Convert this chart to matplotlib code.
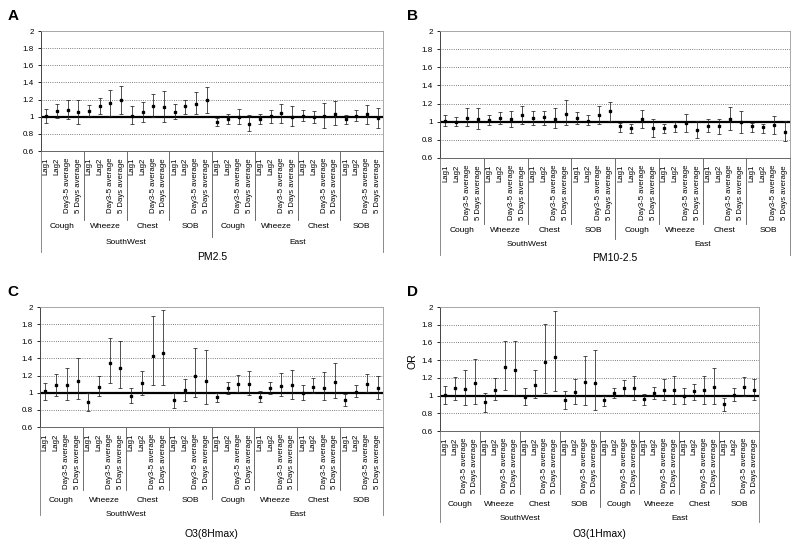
import matplotlib
matplotlib.use('Agg')
import matplotlib.pyplot as plt
from matplotlib.transforms import blended_transform_factory
import numpy as np

plt.rcParams['font.family'] = ['Liberation Sans', 'DejaVu Sans']

lags = ['Lag1', 'Lag2', 'Day3-5 average', '5 Days average']
symptoms = ['Cough', 'Wheeze', 'Chest', 'SOB']
regions = ['SouthWest', 'East']

# odds ratios with lower / upper 95% limits, 32 per panel
pm25_or = [1.01, 1.07, 1.08, 1.05, 1.07, 1.12, 1.16, 1.19, 1.01, 1.05, 1.13, 1.11, 1.06, 1.12, 1.15, 1.19,
           0.94, 0.97, 1.00, 0.92, 0.97, 1.01, 1.04, 1.00, 1.01, 1.00, 1.01, 1.03, 0.97, 1.01, 1.03, 0.98]
pm25_lo = [0.93, 0.98, 0.97, 0.92, 1.01, 1.03, 1.01, 1.03, 0.91, 0.94, 1.00, 0.94, 0.97, 1.03, 1.03, 1.04,
           0.89, 0.91, 0.91, 0.83, 0.91, 0.93, 0.93, 0.89, 0.95, 0.93, 0.87, 0.90, 0.91, 0.95, 0.92, 0.87]
pm25_hi = [1.09, 1.15, 1.20, 1.19, 1.14, 1.22, 1.31, 1.36, 1.12, 1.17, 1.27, 1.30, 1.15, 1.20, 1.29, 1.35,
           0.99, 1.03, 1.09, 1.02, 1.03, 1.08, 1.15, 1.13, 1.08, 1.07, 1.16, 1.18, 1.02, 1.08, 1.14, 1.10]

pm10_or = [1.01, 1.00, 1.04, 1.03, 1.02, 1.04, 1.03, 1.07, 1.04, 1.05, 1.03, 1.09, 1.04, 1.01, 1.07, 1.12,
           0.95, 0.93, 1.03, 0.93, 0.93, 0.95, 0.99, 0.91, 0.95, 0.95, 1.03, 1.00, 0.95, 0.94, 0.96, 0.89]
pm10_lo = [0.95, 0.95, 0.95, 0.92, 0.96, 0.98, 0.94, 0.97, 0.96, 0.96, 0.93, 0.96, 0.97, 0.96, 0.97, 1.01,
           0.89, 0.88, 0.93, 0.83, 0.88, 0.89, 0.89, 0.82, 0.89, 0.87, 0.91, 0.88, 0.89, 0.88, 0.86, 0.79]
pm10_hi = [1.07, 1.05, 1.15, 1.15, 1.07, 1.11, 1.12, 1.17, 1.12, 1.12, 1.15, 1.24, 1.11, 1.07, 1.17, 1.22,
           0.99, 0.98, 1.13, 1.03, 0.98, 1.00, 1.09, 1.01, 1.03, 1.03, 1.16, 1.12, 0.99, 0.98, 1.06, 1.01]

o38_or = [1.02, 1.09, 1.09, 1.14, 0.89, 1.07, 1.35, 1.29, 0.96, 1.11, 1.43, 1.46, 0.91, 1.03, 1.20, 1.14,
          0.95, 1.05, 1.10, 1.10, 0.95, 1.05, 1.08, 1.09, 1.00, 1.07, 1.06, 1.12, 0.91, 1.01, 1.10, 1.05]
o38_lo = [0.92, 0.96, 0.91, 0.93, 0.79, 0.96, 1.11, 1.05, 0.88, 0.97, 1.09, 1.09, 0.82, 0.90, 0.95, 0.87,
          0.89, 0.99, 1.01, 0.97, 0.89, 0.98, 0.96, 0.93, 0.91, 1.00, 0.91, 0.94, 0.85, 0.95, 1.01, 0.93]
o38_hi = [1.11, 1.22, 1.29, 1.41, 1.00, 1.20, 1.64, 1.60, 1.05, 1.25, 1.89, 1.96, 1.00, 1.16, 1.52, 1.50,
          1.00, 1.13, 1.21, 1.25, 1.02, 1.12, 1.23, 1.27, 1.09, 1.17, 1.24, 1.35, 0.98, 1.09, 1.22, 1.20]

o31_or = [1.01, 1.08, 1.07, 1.14, 0.93, 1.06, 1.32, 1.29, 0.98, 1.12, 1.38, 1.44, 0.95, 1.04, 1.15, 1.14,
          0.95, 1.03, 1.09, 1.08, 0.96, 1.03, 1.06, 1.06, 0.99, 1.05, 1.06, 1.10, 0.91, 1.01, 1.10, 1.06]
o31_lo = [0.91, 0.95, 0.89, 0.91, 0.82, 0.95, 1.06, 1.01, 0.89, 0.97, 1.03, 1.05, 0.85, 0.90, 0.89, 0.84,
          0.88, 0.97, 1.00, 0.95, 0.89, 0.96, 0.95, 0.91, 0.90, 0.95, 0.90, 0.91, 0.83, 0.94, 1.00, 0.95]
o31_hi = [1.11, 1.21, 1.29, 1.41, 1.03, 1.20, 1.62, 1.62, 1.09, 1.29, 1.81, 1.95, 1.05, 1.19, 1.45, 1.51,
          1.00, 1.09, 1.18, 1.22, 1.02, 1.10, 1.19, 1.22, 1.08, 1.13, 1.22, 1.31, 0.97, 1.08, 1.21, 1.19]

W, H = 800, 548
fig = plt.figure(figsize=(W / 100, H / 100), dpi=100)


def panel(box, letter, title, vals, lo, hi, lines, lab_y, ylabel=None):
    # box = left, right, top, bottom in pixels
    l, r, t, b = box
    ax = fig.add_axes([l / W, 1 - b / H, (r - l) / W, (b - t) / H])
    x = np.arange(len(vals))
    vals = np.array(vals)
    err = [vals - np.array(lo), np.array(hi) - vals]
    ax.axhline(1, color='black', lw=1.6, zorder=2)
    ax.errorbar(x, vals, yerr=err, fmt='s', ms=1.6, color='black', ecolor='#222222',
                elinewidth=0.55, capsize=1.5, capthick=0.55, zorder=3)
    ax.set_xlim(-0.5, len(vals) - 0.5)
    ax.set_ylim(0.6, 2)
    ax.set_yticks(np.arange(0.6, 2.01, 0.2))
    ax.set_yticklabels(['0.6', '0.8', '1', '1.2', '1.4', '1.6', '1.8', '2'], fontsize=5.8)
    for yv in [0.8, 1.2, 1.4, 1.6, 1.8]:
        ax.axhline(yv, color='#555555', lw=0.6, ls=':', zorder=1)
    ax.tick_params(axis='y', length=2.5, width=0.6, pad=2.5)
    ax.set_xticks(x)
    ax.set_xticklabels(lags * 8, rotation=90, fontsize=5.6)
    ax.tick_params(axis='x', length=0, pad=5)
    for s in ['top', 'right']:
        ax.spines[s].set_color('#999999')
        ax.spines[s].set_linewidth(0.6)
    ax.spines['left'].set_color('#444444')
    ax.spines['left'].set_linewidth(0.7)
    ax.spines['bottom'].set_color('#666666')
    ax.spines['bottom'].set_linewidth(0.7)

    tr = blended_transform_factory(ax.transData, fig.transFigure)
    fy = lambda py: 1 - py / H
    y_in, y_reg, y_out = lines
    for k in range(1, 8):
        xs = 4 * k - 0.5
        ye = y_reg if k == 4 else y_in
        ax.plot([xs, xs], [fy(b), fy(ye)], color='#555555', lw=0.6, transform=tr, clip_on=False)
    for xs in [-0.5, len(vals) - 0.5]:
        ax.plot([xs, xs], [fy(b), fy(y_out)], color='#777777', lw=0.6, transform=tr, clip_on=False)
    y_sym, y_region, y_title = lab_y
    for k in range(8):
        ax.text(4 * k + 1.5, fy(y_sym), symptoms[k % 4], transform=tr, ha='center', va='center', fontsize=6)
    for k in range(2):
        ax.text(16 * k + 7.5, fy(y_region), regions[k], transform=tr, ha='center', va='center', fontsize=6)
    ax.text(15.5, fy(y_title), title, transform=tr, ha='center', va='center', fontsize=7.5)
    fig.text((l - 33) / W, fy(t - 15), letter, fontsize=11, fontweight='bold', ha='left', va='center')
    if ylabel:
        fig.text((l - 28) / W, fy((t + b) / 2 - 8), ylabel, rotation=90, fontsize=7.5, ha='center', va='center')
    return ax


panel((41, 383, 31, 151), 'A', 'PM2.5', pm25_or, pm25_lo, pm25_hi, (220, 237, 252), (226, 242, 257))
panel((440, 790, 31, 158), 'B', 'PM10-2.5', pm10_or, pm10_lo, pm10_hi, (224, 239, 255), (230, 244, 258))
panel((40, 383, 307, 427), 'C', 'O3(8Hmax)', o38_or, o38_lo, o38_hi, (490, 499, 515), (500, 514, 534))
panel((440, 759, 307, 431), 'D', 'O3(1Hmax)', o31_or, o31_lo, o31_hi, (494, 507, 522), (505, 519, 534), ylabel='OR')

plt.savefig('out.png', dpi=100)
plt.close()
